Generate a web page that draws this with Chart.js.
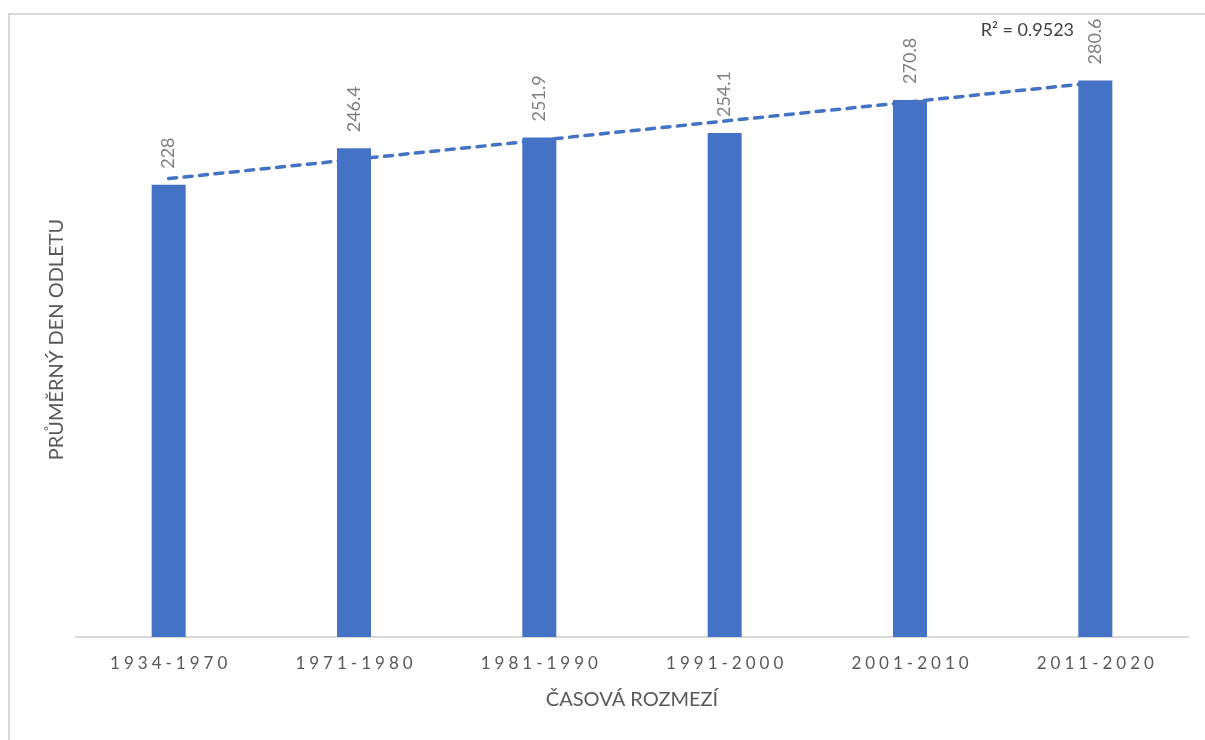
<!DOCTYPE html>
<html lang="cs">
<head>
<meta charset="utf-8">
<title>Průměrný den odletu</title>
<script src="https://cdn.jsdelivr.net/npm/chart.js@4/dist/chart.umd.min.js"></script>
<style>
  html, body { margin: 0; padding: 0; background: #fff; }
  #wrap { width: 1205px; height: 740px; }
</style>
</head>
<body>
<div id="wrap"><canvas id="chart" width="1205" height="740"></canvas></div>
<script>
// období a průměrný den odletu
var obdobi = ['1934-1970', '1971-1980', '1981-1990', '1991-2000', '2001-2010', '2011-2020'];
var prumernyDen = [228, 246.4, 251.9, 254.1, 270.8, 280.6];
var osaMin = 0;
var osaMax = 300;

var modra = '#4472C4';
var seda = '#595959';
var font = 'Lato, "Open Sans", sans-serif';

// lineární trend (nejmenší čtverce) a R²
function linearniTrend(y) {
    var n = y.length, sx = 0, sy = 0;
    for (var i = 0; i < n; i++) { sx += i + 1; sy += y[i]; }
    var mx = sx / n, my = sy / n, sxy = 0, sxx = 0, stot = 0;
    for (var i = 0; i < n; i++) {
        sxy += (i + 1 - mx) * (y[i] - my);
        sxx += (i + 1 - mx) * (i + 1 - mx);
        stot += (y[i] - my) * (y[i] - my);
    }
    var b = sxy / sxx, a = my - b * mx;
    var body = y.map(function (v, i) { return a + b * (i + 1); });
    var sres = 0;
    for (var i = 0; i < n; i++) sres += (y[i] - body[i]) * (y[i] - body[i]);
    return { body: body, r2: 1 - sres / stot };
}
var trend = linearniTrend(prumernyDen);

// rámeček, popisky os, hodnoty nad sloupci a R²
var popisky = {
    id: 'popisky',
    beforeDraw: function (chart) {
        var ctx = chart.ctx;
        ctx.save();
        ctx.strokeStyle = '#d9d9d9';
        ctx.lineWidth = 2;
        ctx.beginPath();
        ctx.moveTo(9, 740);
        ctx.lineTo(9, 14);
        ctx.lineTo(1205, 14);
        ctx.stroke();
        ctx.restore();
    },
    afterDraw: function (chart) {
        var ctx = chart.ctx;
        var x = chart.scales.x;
        var area = chart.chartArea;

        // kategorie s prostrkáním
        ctx.save();
        ctx.font = '17px ' + font;
        ctx.fillStyle = seda;
        ctx.textAlign = 'center';
        ctx.textBaseline = 'middle';
        ctx.letterSpacing = '4px';
        obdobi.forEach(function (t, i) {
            ctx.fillText(t, x.getPixelForValue(i) + 2, area.bottom + 27);
        });
        ctx.restore();

        // hodnoty svisle nad sloupci
        var bary = chart.getDatasetMeta(0).data;
        ctx.save();
        ctx.font = '18px ' + font;
        ctx.fillStyle = '#7f7f7f';
        ctx.textBaseline = 'middle';
        ctx.textAlign = 'left';
        bary.forEach(function (bar, i) {
            ctx.save();
            ctx.translate(bar.x, bar.y - 16);
            ctx.rotate(-Math.PI / 2);
            ctx.fillText(String(prumernyDen[i]), 0, 0);
            ctx.restore();
        });
        ctx.restore();

        // koeficient determinace
        ctx.save();
        ctx.font = '18px ' + font;
        ctx.fillStyle = '#404040';
        ctx.textAlign = 'center';
        ctx.textBaseline = 'middle';
        ctx.fillText('R² = ' + trend.r2.toFixed(4), x.getPixelForValue(obdobi.length - 1) - 68, area.top - 12);
        ctx.restore();
    }
};

new Chart(document.getElementById('chart'), {
    type: 'bar',
    data: {
        labels: obdobi,
        datasets: [{
            label: 'Průměrný den odletu',
            data: prumernyDen,
            backgroundColor: modra,
            barPercentage: 0.1835,
            categoryPercentage: 1,
            order: 0
        }, {
            type: 'line',
            label: 'Lineární trend',
            data: trend.body,
            borderColor: modra,
            borderWidth: 3.5,
            borderDash: [8, 7.5],
            borderCapStyle: 'round',
            pointRadius: 0,
            fill: false,
            order: 1
        }]
    },
    options: {
        responsive: false,
        animation: false,
        layout: { padding: { left: 10, right: 17, top: 42, bottom: 18 } },
        plugins: {
            legend: { display: false },
            tooltip: { enabled: false }
        },
        scales: {
            x: {
                grid: { display: false, drawTicks: false },
                border: { display: true, color: '#d9d9d9', width: 2 },
                ticks: { display: false },
                title: {
                    display: true,
                    text: 'ČASOVÁ ROZMEZÍ',
                    color: seda,
                    font: { family: font, size: 20 },
                    padding: { top: 51, bottom: 10 }
                }
            },
            y: {
                min: osaMin,
                max: osaMax,
                grid: { display: false, drawTicks: false },
                border: { display: false },
                ticks: { display: false },
                title: {
                    display: true,
                    text: 'PRŮMĚRNÝ DEN ODLETU',
                    color: seda,
                    font: { family: font, size: 20 },
                    padding: { top: 35, bottom: 7 }
                }
            }
        }
    },
    plugins: [popisky]
});
</script>
</body>
</html>
